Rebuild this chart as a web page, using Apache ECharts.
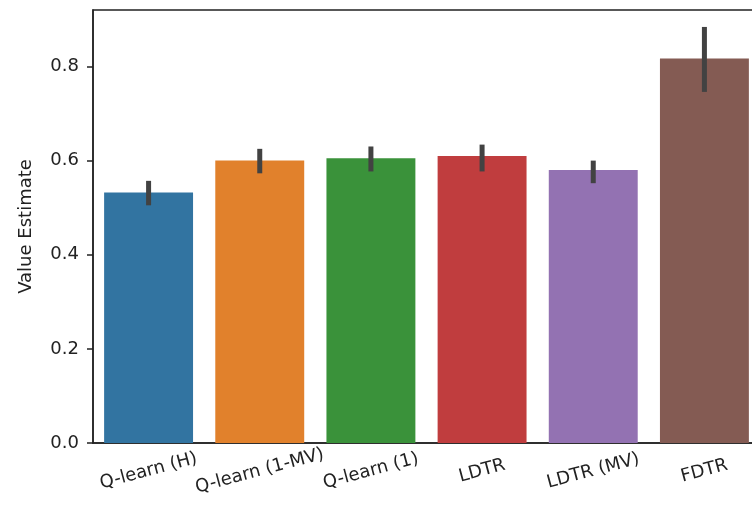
<!DOCTYPE html>
<html>
<head>
<meta charset="utf-8">
<script src="https://cdn.jsdelivr.net/npm/echarts@6/dist/echarts.min.js"></script>
<style>html,body{margin:0;padding:0;background:#fff;overflow:hidden;}#c{width:760px;height:517px;}</style>
</head>
<body>
<div id="c"></div>
<script>
const categories = ['Q-learn (H)', 'Q-learn (1-MV)', 'Q-learn (1)', 'LDTR', 'LDTR (MV)', 'FDTR'];
const means = [0.532, 0.600, 0.605, 0.610, 0.580, 0.817];
const ciLow = [0.505, 0.573, 0.577, 0.577, 0.552, 0.746];
const ciHigh = [0.557, 0.625, 0.630, 0.634, 0.600, 0.884];
const barColors = ['#3274a1', '#e1812c', '#3a923a', '#c03d3e', '#9372b2', '#845b53'];
const yTicks = [0, 0.2, 0.4, 0.6, 0.8];

const FONT = 'DejaVu Sans';
const TXT = '#222';
const chart = echarts.init(document.getElementById('c'), null, {renderer: 'canvas'});
chart.setOption({
  animation: false,
  backgroundColor: '#fff',
  grid: {left: 93, right: 0, top: 10, bottom: 74, show: true, borderColor: '#222', borderWidth: 1.5, backgroundColor: 'transparent'},
  xAxis: {
    type: 'category',
    data: categories,
    axisLine: {lineStyle: {color: '#222', width: 1.5}},
    axisTick: {alignWithLabel: true, length: 6, lineStyle: {color: '#222', width: 1.5}},
    axisLabel: {rotate: 15, align: 'center', verticalAlign: 'middle', margin: 28, fontFamily: FONT, fontSize: 18, color: TXT, interval: 0}
  },
  yAxis: {
    type: 'value',
    min: 0, max: 0.92,
    name: 'Value Estimate',
    nameLocation: 'middle',
    nameGap: 58,
    nameTextStyle: {fontFamily: FONT, fontSize: 18, color: TXT},
    splitLine: {show: false},
    axisLine: {show: true, lineStyle: {color: '#222', width: 1.5}},
    axisTick: {show: true, length: 6, customValues: yTicks, lineStyle: {color: '#222', width: 1.5}},
    axisLabel: {customValues: yTicks, margin: 14, fontFamily: FONT, fontSize: 18, color: TXT, formatter: v => v.toFixed(1)}
  },
  series: [
    {
      type: 'bar',
      barWidth: '80%',
      data: means.map((v, i) => ({value: v, itemStyle: {color: barColors[i]}}))
    },
    {
      type: 'custom',
      data: categories.map((c, i) => [i, ciLow[i], ciHigh[i]]),
      renderItem: function (params, api) {
        const p1 = api.coord([api.value(0), api.value(1)]);
        const p2 = api.coord([api.value(0), api.value(2)]);
        return {type: 'line', shape: {x1: p1[0], y1: p1[1], x2: p2[0], y2: p2[1]}, style: {stroke: '#424242', lineWidth: 5}};
      },
      z: 10
    }
  ]
});
</script>
</body>
</html>
